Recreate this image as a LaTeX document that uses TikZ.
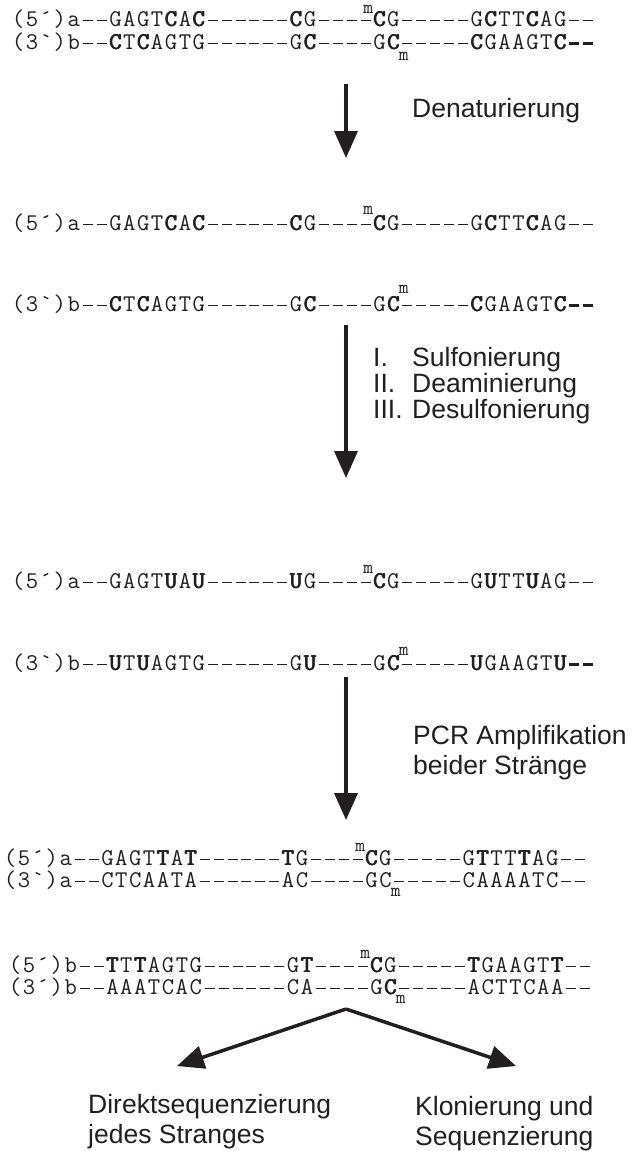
\documentclass[tikz,border=0pt]{standalone}
\usepackage{fontspec}
\usetikzlibrary{arrows.meta}
\newfontfamily\labelfont{Liberation Sans}
\definecolor{ink}{RGB}{35,31,32}

% one fixed-width cell per base; '-' draws a thin dash, '=' a bold dash
\newlength\cellw
\setlength\cellw{13.9pt}
% heavy base: the glyph struck three times with a small shift
\newcommand*\bd[1]{\rlap{#1}\kern0.5pt\rlap{#1}\kern0.5pt#1}
\def\seqloop#1{\ifx\relax#1\else
  \ifx-#1\hbox to\cellw{\hss\rule[5.6pt]{10pt}{1.2pt}\hss}\else
  \ifx=#1\hbox to\cellw{\hss\rule[5pt]{9.6pt}{2.8pt}\hss}\else
  \hbox to\cellw{\hss#1\hss}\fi\fi
  \expandafter\seqloop\fi}
\newcommand*\seqline[1]{\seqloop#1\relax}

\begin{document}
\begin{tikzpicture}[x=1pt,y=1pt,
  seq/.style={anchor=base west,inner sep=0pt,text=ink,
    font=\ttfamily\fontsize{24pt}{24pt}\selectfont},
  meth/.style={inner sep=0pt,text=ink,
    font=\ttfamily\fontsize{19pt}{19pt}\selectfont},
  lbl/.style={anchor=base west,inner sep=0pt,text=ink,align=left,
    font=\labelfont\fontsize{26.5pt}{30pt}\selectfont},
  flow/.style={draw=ink,line width=3.5pt,
    -{Triangle[width=23pt,length=27pt]}}]
\useasboundingbox (0,0) rectangle (634,-1151);

% double strand
\node[seq] (l1) at (11,-26.5) {\seqline{(5´)a--GAGT{\bd C}A{\bd C}------{\bd C}G----{\bd C}G-----G{\bd C}TT{\bd C}AG--}};
\node[meth,anchor=base east] (m1) at (373.4,-13.5) {m};
\node[seq] (l2) at (11,-49.5) {\seqline{(3`)b--{\bd C}T{\bd C}AGTG------G{\bd C}----G{\bd C}-----{\bd C}GAAGT{\bd C}==}};
\node[meth,anchor=base west] (m2) at (398.7,-60) {m};

% denaturation
\coordinate (a1s) at (346,-84);
\coordinate (a1e) at (346,-158);
\draw[flow] (a1s) -- (a1e);
\node[lbl] (t1) at (412,-117) {Denaturierung};

% single strands
\node[seq] (l3) at (11,-230.5) {\seqline{(5´)a--GAGT{\bd C}A{\bd C}------{\bd C}G----{\bd C}G-----G{\bd C}TT{\bd C}AG--}};
\node[meth,anchor=base east] (m3) at (373.4,-214) {m};
\node[seq] (l4) at (11,-311.5) {\seqline{(3`)b--{\bd C}T{\bd C}AGTG------G{\bd C}----G{\bd C}-----{\bd C}GAAGT{\bd C}==}};
\node[meth,anchor=base west] (m4) at (398.7,-293) {m};

% bisulfite treatment
\coordinate (a2s) at (346,-325);
\coordinate (a2e) at (346,-478);
\draw[flow] (a2s) -- (a2e);
\node[lbl] (t2) at (373,-366) {\makebox[39pt][l]{I.}Sulfonierung};
\node[lbl] (t3) at (373,-392) {\makebox[39pt][l]{II.}Deaminierung};
\node[lbl] (t4) at (373,-418) {\makebox[39pt][l]{III.}Desulfonierung};

% converted strands
\node[seq] (l5) at (11,-588.5) {\seqline{(5´)a--GAGT{\bd U}A{\bd U}------{\bd U}G----{\bd C}G-----G{\bd U}TT{\bd U}AG--}};
\node[meth,anchor=base east] (m5) at (373.4,-573) {m};
\node[seq] (l6) at (11,-670.5) {\seqline{(3`)b--{\bd U}T{\bd U}AGTG------G{\bd U}----G{\bd C}-----{\bd U}GAAGT{\bd U}==}};
\node[meth,anchor=base west] (m6) at (398.7,-655) {m};

% PCR
\coordinate (a3s) at (346,-677);
\coordinate (a3e) at (346,-820);
\draw[flow] (a3s) -- (a3e);
\node[lbl] (t5) at (413,-774) {PCR Amplifikation\\beider Stränge};

% amplified products
\node[seq] (l7) at (3,-865.5) {\seqline{(5´)a--GAGT{\bd T}A{\bd T}------{\bd T}G----{\bd C}G-----G{\bd T}TT{\bd T}AG--}};
\node[meth,anchor=base east] (m7) at (365.4,-851.5) {m};
\node[seq] (l8) at (3,-887.5) {\seqline{(3`)a--CTCAATA------AC----GC-----CAAAATC--}};
\node[meth,anchor=base west] (m8) at (390.7,-896) {m};
\node[seq] (l9) at (8,-972.5) {\seqline{(5´)b--{\bd T}T{\bd T}AGTG------G{\bd T}----{\bd C}G-----{\bd T}GAAGT{\bd T}--}};
\node[meth,anchor=base east] (m9) at (370.4,-958.5) {m};
\node[seq] (l10) at (8,-994.5) {\seqline{(3´)b--AAATCAC------CA----G{\bd C}-----ACTTCAA--}};
\node[meth,anchor=base west] (m10) at (395.7,-1003) {m};

% sequencing routes
\coordinate (apex) at (346,-1009);
\coordinate (tipl) at (177,-1066);
\coordinate (tipr) at (516,-1066);
\draw[flow] (apex) -- (tipl);
\draw[flow] (apex) -- (tipr);
\node[lbl] (t6) at (88,-1143) {Direktsequenzierung\\jedes Stranges};
\node[lbl] (t7) at (415,-1145) {Klonierung und\\Sequenzierung};
\end{tikzpicture}
\end{document}
